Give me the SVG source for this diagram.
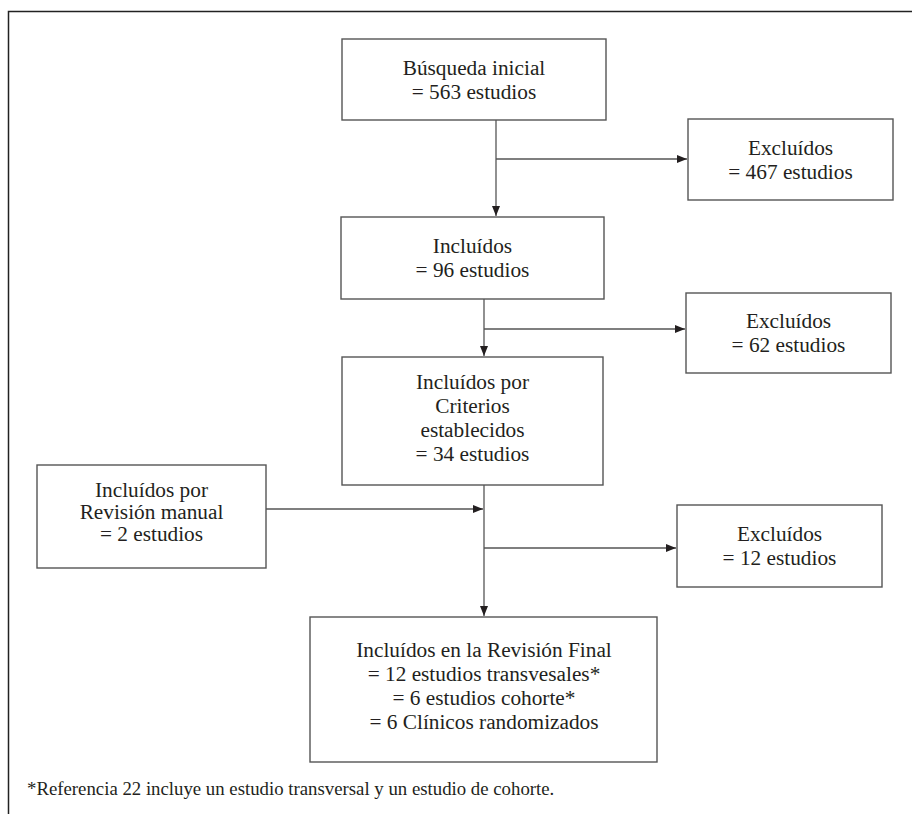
<svg xmlns="http://www.w3.org/2000/svg" width="912" height="814" viewBox="0 0 912 814">
<style>
.box{fill:#fff;stroke:#555;stroke-width:1.4}
.t{font-family:"Liberation Serif","Times New Roman",serif;font-size:21.3px;fill:#231f20;text-anchor:middle}
.fn{font-family:"Liberation Serif","Times New Roman",serif;font-size:18.8px;fill:#231f20}
.c{fill:none;stroke:#555;stroke-width:1.3}
</style>
<defs>
<marker id="ah" markerUnits="userSpaceOnUse" markerWidth="12" markerHeight="10" refX="10" refY="5" orient="auto">
<path d="M0,1 L10,5 L0,9 Z" fill="#231f20"/>
</marker>
</defs>
<rect width="912" height="814" fill="#fff"/>
<path d="M8.5,814 V11.5 H912" fill="none" stroke="#222" stroke-width="1.5"/>

<g id="connectors">
<line class="c" x1="496" y1="120" x2="496" y2="216" marker-end="url(#ah)"/>
<line class="c" x1="496" y1="159" x2="687" y2="159" marker-end="url(#ah)"/>
<line class="c" x1="484" y1="299" x2="484" y2="356" marker-end="url(#ah)"/>
<line class="c" x1="484" y1="329" x2="685" y2="329" marker-end="url(#ah)"/>
<line class="c" x1="484" y1="485" x2="484" y2="616" marker-end="url(#ah)"/>
<line class="c" x1="266" y1="509" x2="483" y2="509" marker-end="url(#ah)"/>
<line class="c" x1="484" y1="548" x2="676" y2="548" marker-end="url(#ah)"/>
</g>

<g id="busqueda">
<rect class="box" x="342" y="39" width="264" height="81"/>
<text class="t" x="474" y="75">Búsqueda inicial</text>
<text class="t" x="474" y="99">= 563 estudios</text>
</g>
<g id="excluidos1">
<rect class="box" x="688" y="119" width="205" height="81"/>
<text class="t" x="790.5" y="155">Excluídos</text>
<text class="t" x="790.5" y="179">= 467 estudios</text>
</g>
<g id="incluidos">
<rect class="box" x="341" y="217" width="263" height="82"/>
<text class="t" x="472.5" y="253">Incluídos</text>
<text class="t" x="472.5" y="277">= 96 estudios</text>
</g>
<g id="excluidos2">
<rect class="box" x="686" y="293" width="205" height="80"/>
<text class="t" x="788.5" y="328">Excluídos</text>
<text class="t" x="788.5" y="352">= 62 estudios</text>
</g>
<g id="criterios">
<rect class="box" x="342" y="357" width="261" height="128"/>
<text class="t" x="472.5" y="389">Incluídos por</text>
<text class="t" x="472.5" y="413">Criterios</text>
<text class="t" x="472.5" y="437">establecidos</text>
<text class="t" x="472.5" y="461">= 34 estudios</text>
</g>
<g id="manual">
<rect class="box" x="37" y="465" width="229" height="103"/>
<text class="t" x="151.5" y="497">Incluídos por</text>
<text class="t" x="151.5" y="519">Revisión manual</text>
<text class="t" x="151.5" y="541">= 2 estudios</text>
</g>
<g id="excluidos3">
<rect class="box" x="677" y="505" width="205" height="82"/>
<text class="t" x="779.5" y="541">Excluídos</text>
<text class="t" x="779.5" y="565">= 12 estudios</text>
</g>
<g id="final">
<rect class="box" x="310" y="617" width="347" height="145"/>
<text class="t" x="484" y="657">Incluídos en la Revisión Final</text>
<text class="t" x="484" y="681">= 12 estudios transvesales*</text>
<text class="t" x="484" y="705">= 6 estudios cohorte*</text>
<text class="t" x="484" y="729">= 6 Clínicos randomizados</text>
</g>
<text class="fn" x="27" y="795">*Referencia 22 incluye un estudio transversal y un estudio de cohorte.</text>
</svg>
